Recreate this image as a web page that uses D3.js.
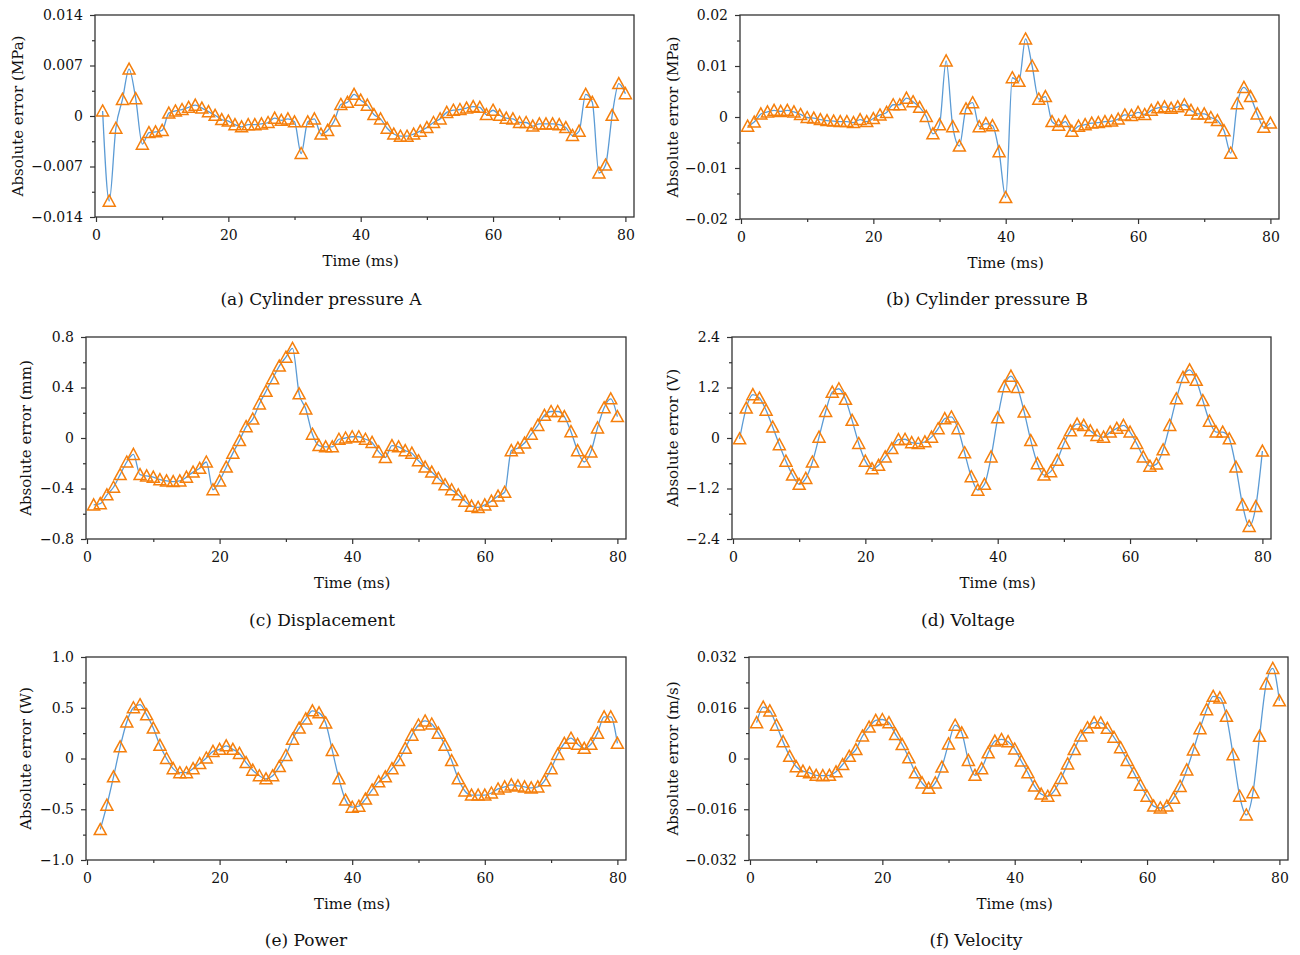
<!DOCTYPE html>
<html><head><meta charset="utf-8">
<script src="https://cdn.jsdelivr.net/npm/d3@7/dist/d3.min.js"></script>
<style>
html,body{margin:0;padding:0;background:#fff;}
svg text{font-family:"DejaVu Serif","Liberation Serif",serif;fill:#111;}
</style></head>
<body><svg id="c" width="1300" height="955"></svg>
<script>
const time = [1,2,3,4,5,6,7,8,9,10,11,12,13,14,15,16,17,18,19,20,21,22,23,24,25,26,27,28,29,30,31,32,33,34,35,36,37,38,39,40,41,42,43,44,45,46,47,48,49,50,51,52,53,54,55,56,57,58,59,60,61,62,63,64,65,66,67,68,69,70,71,72,73,74,75,76,77,78,79,80];
const timeE = time.slice(1);
const xTicks = [0,20,40,60,80];

const valA = [0.0007,-0.0118,-0.0017,0.0023,0.0065,0.0024,-0.0039,-0.0023,-0.0022,-0.0020,
0.0004,0.0007,0.0009,0.0012,0.0015,0.0011,0.0006,0.0001,-0.0005,-0.0007,
-0.0012,-0.0015,-0.0012,-0.0012,-0.0011,-0.0009,-0.0003,-0.0006,-0.0004,-0.0008,
-0.0052,-0.0008,-0.0004,-0.0025,-0.0020,-0.0007,0.0016,0.0019,0.0030,0.0022,
0.0015,0.0002,-0.0004,-0.0017,-0.0025,-0.0028,-0.0028,-0.0025,-0.0021,-0.0016,
-0.0009,-0.0004,0.0005,0.0008,0.0009,0.0011,0.0013,0.0012,0.0002,0.0008,
0.0001,-0.0003,-0.0004,-0.0009,-0.0009,-0.0014,-0.0011,-0.0011,-0.0011,-0.0012,
-0.0016,-0.0027,-0.0021,0.0030,0.0019,-0.0079,-0.0068,0.0001,0.0045,0.0031];

const valB = [-0.0018,-0.0010,0.0006,0.0010,0.0013,0.0011,0.0013,0.0010,0.0005,-0.0001,
-0.0002,-0.0005,-0.0007,-0.0008,-0.0009,-0.0009,-0.0011,-0.0005,-0.0009,-0.0003,
0.0004,0.0009,0.0024,0.0024,0.0037,0.0030,0.0019,0.0001,-0.0033,-0.0015,
0.0110,-0.0019,-0.0057,0.0016,0.0028,-0.0019,-0.0013,-0.0017,-0.0068,-0.0158,
0.0077,0.0070,0.0153,0.0100,0.0035,0.0040,-0.0009,-0.0016,-0.0009,-0.0028,
-0.0018,-0.0015,-0.0012,-0.0011,-0.0009,-0.0008,-0.0004,0.0004,0.0003,0.0009,
0.0005,0.0013,0.0018,0.0020,0.0017,0.0020,0.0024,0.0013,0.0006,0.0006,
-0.0001,-0.0007,-0.0027,-0.0071,0.0026,0.0058,0.0040,0.0006,-0.0020,-0.0012];

const valC = [-0.53,-0.52,-0.45,-0.39,-0.29,-0.19,-0.13,-0.29,-0.30,-0.31,
-0.33,-0.34,-0.345,-0.34,-0.31,-0.27,-0.24,-0.19,-0.41,-0.34,
-0.23,-0.12,-0.02,0.09,0.15,0.27,0.37,0.47,0.57,0.64,
0.71,0.35,0.23,0.03,-0.06,-0.07,-0.07,-0.01,0.00,0.01,
0.01,-0.01,-0.035,-0.11,-0.155,-0.06,-0.07,-0.10,-0.12,-0.18,
-0.23,-0.27,-0.32,-0.37,-0.41,-0.45,-0.50,-0.54,-0.55,-0.53,
-0.50,-0.46,-0.43,-0.10,-0.08,-0.04,0.03,0.10,0.18,0.21,
0.21,0.17,0.05,-0.10,-0.19,-0.11,0.08,0.24,0.31,0.17];

const valD = [-0.02,0.71,1.03,0.95,0.66,0.26,-0.16,-0.55,-0.88,-1.10,
-0.96,-0.57,0.02,0.63,1.09,1.17,0.92,0.42,-0.13,-0.55,
-0.73,-0.65,-0.45,-0.25,-0.04,-0.03,-0.11,-0.13,-0.09,0.02,
0.22,0.46,0.50,0.22,-0.35,-0.92,-1.24,-1.10,-0.45,0.48,
1.22,1.47,1.20,0.62,-0.06,-0.61,-0.88,-0.80,-0.53,-0.13,
0.17,0.33,0.30,0.17,0.06,0.02,0.14,0.23,0.30,0.14,
-0.13,-0.45,-0.67,-0.62,-0.28,0.30,0.93,1.44,1.62,1.37,
0.89,0.40,0.14,0.14,-0.02,-0.69,-1.59,-2.10,-1.63,-0.31];

const valE = [-0.70,-0.46,-0.18,0.115,0.36,0.50,0.53,0.43,0.30,
0.13,0.00,-0.10,-0.14,-0.14,-0.10,-0.05,0.005,0.07,0.09,
0.125,0.09,0.05,-0.04,-0.115,-0.17,-0.20,-0.17,-0.08,0.03,
0.19,0.30,0.39,0.47,0.45,0.35,0.08,-0.20,-0.41,-0.48,
-0.47,-0.40,-0.31,-0.23,-0.18,-0.10,-0.02,0.10,0.23,0.33,
0.37,0.34,0.25,0.13,-0.02,-0.20,-0.32,-0.36,-0.36,-0.36,
-0.34,-0.30,-0.28,-0.26,-0.27,-0.28,-0.29,-0.28,-0.22,-0.10,
0.04,0.15,0.20,0.14,0.10,0.14,0.25,0.41,0.41,0.15];

const valF = [0.0113,0.0162,0.0150,0.0105,0.0053,0.0007,-0.0026,-0.0040,-0.0045,-0.0053,
-0.0054,-0.0053,-0.0042,-0.0019,0.0007,0.0028,0.0071,0.0099,0.0120,0.0123,
0.0113,0.0076,0.0044,0.0002,-0.0045,-0.0077,-0.0094,-0.0077,-0.0027,0.0046,
0.0105,0.0081,-0.0006,-0.0053,-0.0032,0.0018,0.0055,0.0060,0.0053,0.0030,
-0.0008,-0.0045,-0.0087,-0.0112,-0.0119,-0.0101,-0.0063,-0.0017,0.0028,0.0071,
0.0097,0.0113,0.0112,0.0095,0.0067,0.0034,-0.0006,-0.0045,-0.0084,-0.0119,
-0.0150,-0.0156,-0.0150,-0.0125,-0.0088,-0.0036,0.0027,0.0094,0.0154,0.0196,
0.0191,0.0133,0.0012,-0.0119,-0.0178,-0.0108,0.0070,0.0235,0.0284,0.0182];

const yTicksA = [-0.014,-0.007,0,0.007,0.014];
const yTickLabelsA = ["\u22120.014","\u22120.007","0","0.007","0.014"];
const yTicksB = [-0.02,-0.01,0,0.01,0.02];
const yTickLabelsB = ["\u22120.02","\u22120.01","0","0.01","0.02"];
const yTicksC = [-0.8,-0.4,0,0.4,0.8];
const yTickLabelsC = ["\u22120.8","\u22120.4","0","0.4","0.8"];
const yTicksD = [-2.4,-1.2,0,1.2,2.4];
const yTickLabelsD = ["\u22122.4","\u22121.2","0","1.2","2.4"];
const yTicksE = [-1.0,-0.5,0,0.5,1.0];
const yTickLabelsE = ["\u22121.0","\u22120.5","0","0.5","1.0"];
const yTicksF = [-0.032,-0.016,0,0.016,0.032];
const yTickLabelsF = ["\u22120.032","\u22120.016","0","0.016","0.032"];

const yLabels = ["Absolute error (MPa)","Absolute error (MPa)","Absolute error (mm)","Absolute error (V)","Absolute error (W)","Absolute error (m/s)"];
const captions = ["(a) Cylinder pressure A","(b) Cylinder pressure B","(c) Displacement","(d) Voltage","(e) Power","(f) Velocity"];

const panels = [
 {x:time, y:valA, ticks:yTicksA, labels:yTickLabelsA, box:[95,15,634,217], ylx:18, capx:321, capy:305},
 {x:time, y:valB, ticks:yTicksB, labels:yTickLabelsB, box:[740,15,1279,219], ylx:673, capx:987, capy:305},
 {x:time, y:valC, ticks:yTicksC, labels:yTickLabelsC, box:[86,337,626,539], ylx:26, capx:322, capy:626},
 {x:time, y:valD, ticks:yTicksD, labels:yTickLabelsD, box:[732,337,1271,539], ylx:673, capx:968, capy:626},
 {x:timeE, y:valE, ticks:yTicksE, labels:yTickLabelsE, box:[86,657,626,860], ylx:26, capx:306, capy:946},
 {x:time, y:valF, ticks:yTicksF, labels:yTickLabelsF, box:[749,657,1288,860], ylx:673, capx:976, capy:946}
];

const svg = d3.select("#c");
const axisCol = "#333";
const lineCol = "#5b9bd5";
const markCol = "#f57f0c";

panels.forEach((p,i)=>{
  const [L,T,R,B] = p.box;
  const xs = d3.scaleLinear().domain([0,81.3]).range([L+1,R]);
  const ys = d3.scaleLinear().domain([p.ticks[0],p.ticks[4]]).range([B,T]);
  const g = svg.append("g");
  const xMinor = xTicks.slice(0,-1).map((t,j)=>(t+xTicks[j+1])/2);
  const yMinor = p.ticks.slice(0,-1).map((t,j)=>(t+p.ticks[j+1])/2);
  g.append("g").attr("transform",`translate(0,${B})`)
    .call(d3.axisBottom(xs).tickValues(xTicks).tickSize(5).tickPadding(8).tickFormat(d3.format("d")));
  g.append("g").attr("transform",`translate(0,${B})`)
    .call(d3.axisBottom(xs).tickValues(xMinor).tickSize(3).tickFormat(""));
  g.append("g").attr("transform",`translate(${L},0)`)
    .call(d3.axisLeft(ys).tickValues(p.ticks).tickSize(5).tickPadding(7).tickFormat((d,k)=>p.labels[k]));
  g.append("g").attr("transform",`translate(${L},0)`)
    .call(d3.axisLeft(ys).tickValues(yMinor).tickSize(3).tickFormat(""));
  g.selectAll(".domain").remove();
  g.selectAll(".tick line").attr("stroke",axisCol).attr("stroke-width",1.2);
  g.selectAll(".tick text").attr("font-size",14).attr("font-family","DejaVu Serif").attr("fill","#111");
  g.append("rect").attr("x",L).attr("y",T).attr("width",R-L).attr("height",B-T)
    .attr("fill","none").attr("stroke",axisCol).attr("stroke-width",1.3);
  const pts = p.x.map((t,k)=>[t,p.y[k]]);
  g.append("path").datum(pts)
    .attr("d", d3.line().x(d=>xs(d[0])).y(d=>ys(d[1])).curve(d3.curveMonotoneX))
    .attr("fill","none").attr("stroke",lineCol).attr("stroke-width",1.3);
  g.append("g").selectAll("path").data(pts).join("path")
    .attr("d", d=>{const cx=xs(d[0]), cy=ys(d[1]); return `M${cx},${cy-6}L${cx+6},${cy+5}L${cx-6},${cy+5}Z`;})
    .attr("fill","none").attr("stroke",markCol).attr("stroke-width",1.5).attr("stroke-linejoin","miter");
  g.append("text").attr("x",(xs(0)+xs(80))/2).attr("y",B+49).attr("text-anchor","middle")
    .attr("font-size",15).text("Time (ms)");
  g.append("text").attr("transform",`translate(${p.ylx},${(T+B)/2}) rotate(-90)`)
    .attr("text-anchor","middle").attr("dy","0.35em").attr("font-size",15).text(yLabels[i]);
  g.append("text").attr("x",p.capx).attr("y",p.capy).attr("text-anchor","middle")
    .attr("font-size",17).text(captions[i]);
});
</script></body></html>
